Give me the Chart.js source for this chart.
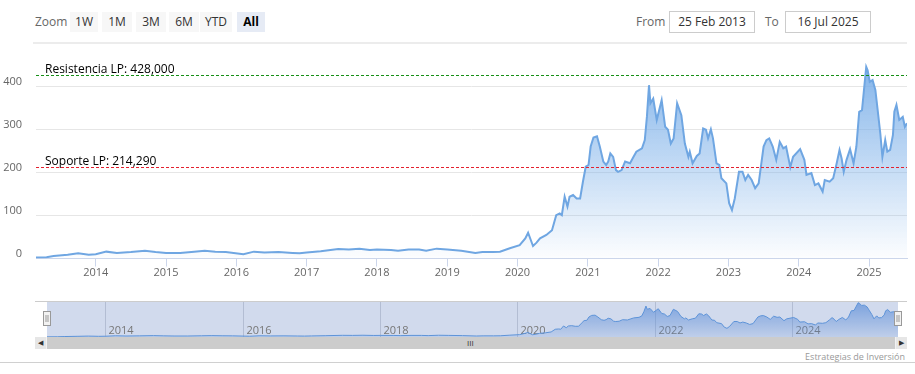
<!DOCTYPE html>
<html>
<head>
<meta charset="utf-8">
<script src="https://cdn.jsdelivr.net/npm/chart.js@4.4.0/dist/chart.umd.min.js"></script>
<style>
  body { margin: 0; width: 915px; height: 374px; position: relative; overflow: hidden; background: #fff; font-family: "Open Sans", sans-serif; }
  .lbl { position: absolute; font-size: 12px; color: #666; }
  .btn { position: absolute; top: 12px; height: 20px; line-height: 20px; background: #f7f7f7; color: #333; font-size: 12px; text-align: center; }
  .btn.sel { background: #e6ebf5; color: #000; font-weight: bold; }
  .caja { position: absolute; top: 11px; height: 20px; line-height: 20px; border: 1px solid #ccc; font-size: 12px; color: #333; text-align: center; }
  #principal { position: absolute; left: 0; top: 45px; width: 915px; height: 245px; }
  #navegador { position: absolute; left: 0; top: 301px; width: 915px; height: 36px; }
  #scroll { position: absolute; left: 35px; top: 337px; width: 872px; height: 12px; background: #f2f2f2; }
  #pulgar { position: absolute; left: 12px; top: 0; width: 848px; height: 12px; background: #cccccc; }
  .flecha { position: absolute; top: 0; width: 11px; height: 12px; background: #e6e6e6; font-size: 7px; line-height: 12px; text-align: center; color: #333; }
</style>
</head>
<body>
<div class="lbl" style="left:35px; top:13px;">Zoom</div>
<div class="btn" style="left:70px; width:28px;">1W</div>
<div class="btn" style="left:102px; width:30px;">1M</div>
<div class="btn" style="left:136px; width:30px;">3M</div>
<div class="btn" style="left:169px; width:30px;">6M</div>
<div class="btn" style="left:200px; width:32px;">YTD</div>
<div class="btn sel" style="left:237px; width:28px;">All</div>
<div class="lbl" style="left:636px; top:13px;">From</div>
<div class="caja" style="left:669px; width:84px;">25 Feb 2013</div>
<div class="lbl" style="left:765px; top:13px;">To</div>
<div class="caja" style="left:785px; width:84px;">16 Jul 2025</div>
<div style="position:absolute; left:33px; top:42px; width:874px; height:2px; background:#ececec;"></div>

<div id="principal"><canvas id="grafico"></canvas></div>
<div id="navegador"><canvas id="nav"></canvas></div>
<div id="scroll">
  <div class="flecha" style="left:0;">&#9664;</div>
  <div id="pulgar"><div style="position:absolute; left:420px; top:0; font-size:8px; line-height:12px; color:#333;">III</div></div>
  <div class="flecha" style="right:0;">&#9654;</div>
</div>
<div style="position:absolute; right:10px; top:350px; font-size:9px; color:#999;">Estrategias de Inversión</div>
<div style="position:absolute; left:0; top:362px; width:915px; height:1px; background:#d0d0d0;"></div>

<script>
// fechas en años decimales y precio de cierre
const fechas = [
  2013.15, 2013.3, 2013.4, 2013.6, 2013.75, 2013.9, 2014.0, 2014.15, 2014.3, 2014.5, 2014.7, 2014.85,
  2015.0, 2015.2, 2015.4, 2015.55, 2015.7, 2015.85, 2016.1, 2016.25, 2016.4, 2016.6, 2016.8, 2016.9,
  2017.0, 2017.2, 2017.45, 2017.6, 2017.75, 2017.9, 2018.0, 2018.2, 2018.3, 2018.45, 2018.6, 2018.7,
  2018.85, 2019.0, 2019.2, 2019.4, 2019.5, 2019.65,
  2019.75, 2019.89, 2020.03, 2020.11, 2020.15, 2020.22, 2020.27, 2020.32, 2020.41, 2020.49, 2020.55, 2020.60,
  2020.63, 2020.67, 2020.71, 2020.74, 2020.79, 2020.84, 2020.89, 2020.93, 2020.97, 2021.01, 2021.04, 2021.08,
  2021.13, 2021.17, 2021.22, 2021.26, 2021.29, 2021.32, 2021.36, 2021.40, 2021.43, 2021.48, 2021.53, 2021.60,
  2021.65, 2021.69, 2021.77, 2021.81, 2021.84, 2021.87, 2021.89, 2021.93, 2021.98, 2022.05, 2022.10, 2022.14,
  2022.18, 2022.22, 2022.27, 2022.33, 2022.38, 2022.43, 2022.45, 2022.49, 2022.55, 2022.59, 2022.64, 2022.68,
  2022.71, 2022.75, 2022.78, 2022.83, 2022.87, 2022.90, 2022.97, 2023.01, 2023.05, 2023.09, 2023.15, 2023.20,
  2023.24, 2023.28, 2023.33, 2023.38, 2023.43, 2023.50, 2023.54, 2023.58, 2023.63, 2023.68, 2023.73, 2023.78,
  2023.82, 2023.88, 2023.92, 2024.02, 2024.08, 2024.11, 2024.18, 2024.23, 2024.28, 2024.34, 2024.37, 2024.44,
  2024.49, 2024.54, 2024.58, 2024.61, 2024.64, 2024.68, 2024.73, 2024.78, 2024.82, 2024.86, 2024.90, 2024.96,
  2024.98, 2025.01, 2025.05, 2025.09, 2025.12, 2025.16, 2025.19, 2025.23, 2025.26, 2025.30, 2025.34, 2025.36,
  2025.39, 2025.43, 2025.48, 2025.51, 2025.54
];
const precios = [
  2.3, 3, 6, 9, 12, 9, 10, 16, 13, 15, 18, 15,
  13, 13, 16, 18, 16, 15, 10, 16, 14, 15, 13, 12,
  14, 17, 22, 21, 23, 20, 21, 20, 18, 21, 21, 18,
  23, 21, 18, 13, 15, 15,
  16, 24, 31, 47, 60, 29, 37, 47, 55, 66, 101, 105,
  101, 144, 121, 144, 148, 140, 140, 179, 214, 218, 261, 282,
  285, 261, 226, 218, 226, 245, 237, 206, 202, 206, 226, 222,
  237, 249, 257, 276, 330, 404, 362, 373, 323, 369, 307, 300,
  268, 280, 362, 334, 268, 237, 249, 222, 239, 245, 303, 300,
  280, 301, 280, 222, 218, 187, 175, 129, 113, 140, 202, 202,
  183, 195, 183, 164, 175, 261, 276, 280, 261, 230, 272, 257,
  261, 213, 237, 255, 230, 195, 199, 171, 175, 156, 183, 179,
  187, 222, 253, 233, 202, 230, 255, 222, 261, 342, 346, 447,
  439, 412, 416, 393, 350, 292, 237, 276, 249, 253, 288, 342,
  358, 323, 330, 307, 315
];
const anios = [2014, 2015, 2016, 2017, 2018, 2019, 2020, 2021, 2022, 2023, 2024, 2025];
const aniosNav = [2014, 2016, 2018, 2020, 2022, 2024];
const ticksY = [0, 100, 200, 300, 400];
const nivelesLP = [428, 214.29];
const etiquetasLP = ['Resistencia LP: 428,000', 'Soporte LP: 214,290'];
const coloresLP = ['#168f16', '#e3202e'];

const puntos = fechas.map((f, i) => ({ x: f, y: precios[i] }));

const lineasLP = {
  id: 'lineasLP',
  afterDatasetsDraw(chart) {
    const { ctx, chartArea, scales } = chart;
    ctx.save();
    nivelesLP.forEach((nivel, i) => {
      const y = Math.round(scales.y.getPixelForValue(nivel)) + 0.5;
      ctx.strokeStyle = coloresLP[i];
      ctx.lineWidth = 1;
      ctx.setLineDash([3, 2]);
      ctx.beginPath();
      ctx.moveTo(chartArea.left, y);
      ctx.lineTo(chartArea.right, y);
      ctx.stroke();
      ctx.setLineDash([]);
      ctx.fillStyle = '#000';
      ctx.font = '12px "Open Sans"';
      ctx.textBaseline = 'alphabetic';
      ctx.fillText(etiquetasLP[i], chartArea.left + 9, y - 3);
    });
    ctx.restore();
  }
};

function degradado(chart, arriba, abajo) {
  const area = chart.chartArea;
  if (!area) return arriba;
  const g = chart.ctx.createLinearGradient(0, area.top, 0, area.bottom);
  g.addColorStop(0, arriba);
  g.addColorStop(1, abajo);
  return g;
}

new Chart(document.getElementById('grafico'), {
  type: 'line',
  data: {
    datasets: [{
      data: puntos,
      borderColor: '#6fa6e2',
      borderWidth: 2,
      pointRadius: 0,
      tension: 0,
      fill: 'origin',
      backgroundColor: (c) => degradado(c.chart, 'rgba(118,172,232,1)', 'rgba(124,176,232,0.02)')
    }]
  },
  options: {
    responsive: true,
    maintainAspectRatio: false,
    animation: false,
    layout: { autoPadding: false, padding: { left: 0, right: 8, top: 0, bottom: 1.5 } },
    plugins: { legend: { display: false }, tooltip: { enabled: false } },
    scales: {
      x: {
        type: 'linear',
        min: 2013.15,
        max: 2025.54,
        afterBuildTicks: (s) => { s.ticks = anios.map(v => ({ value: v })); },
        afterFit: (s) => { s.height = 30; s.paddingLeft = 0; s.paddingRight = 0; },
        grid: { drawOnChartArea: false, drawTicks: true, tickLength: 8, color: '#ccd6eb' },
        border: { display: true, color: '#ccd6eb' },
        ticks: { color: '#666', font: { family: 'Open Sans', size: 11 }, padding: 0, maxRotation: 0, callback: (v) => String(v) }
      },
      y: {
        min: 0,
        max: 497.7,
        afterBuildTicks: (s) => { s.ticks = ticksY.map(v => ({ value: v })); },
        afterFit: (s) => { s.width = 36; s.paddingTop = 0; s.paddingBottom = 0; },
        grid: { color: '#e6e6e6', drawTicks: false },
        border: { display: false },
        ticks: { color: '#666', font: { family: 'Open Sans', size: 11 }, padding: 14, labelOffset: -5 }
      }
    }
  },
  plugins: [lineasLP]
});

const fondoNav = {
  id: 'fondoNav',
  beforeDatasetsDraw(chart) {
    const { ctx, chartArea, scales } = chart;
    ctx.save();
    ctx.fillStyle = 'rgba(102,133,194,0.3)';
    ctx.fillRect(chartArea.left, 0, chartArea.right - chartArea.left, chart.height);
    ctx.strokeStyle = 'rgba(150,160,185,0.5)';
    ctx.lineWidth = 1;
    ctx.fillStyle = '#777';
    ctx.font = '11px "Open Sans"';
    ctx.textBaseline = 'bottom';
    aniosNav.forEach((a) => {
      const x = Math.round(scales.x.getPixelForValue(a)) + 0.5;
      ctx.beginPath();
      ctx.moveTo(x, 0);
      ctx.lineTo(x, chart.height);
      ctx.stroke();
      ctx.fillText(String(a), x + 3, chart.height - 1);
    });
    ctx.restore();
  },
  afterDatasetsDraw(chart) {
    const { ctx, chartArea } = chart;
    ctx.save();
    ctx.strokeStyle = '#cccccc';
    ctx.beginPath();
    ctx.moveTo(35, 0.5);
    ctx.lineTo(907, 0.5);
    ctx.stroke();
    [chartArea.left, chartArea.right].forEach((x) => {
      const hx = Math.round(x - 4) + 0.5;
      ctx.fillStyle = '#f2f2f2';
      ctx.strokeStyle = '#999';
      ctx.fillRect(hx, 10.5, 7, 14);
      ctx.strokeRect(hx, 10.5, 7, 14);
      ctx.beginPath();
      ctx.moveTo(hx + 2.5, 14); ctx.lineTo(hx + 2.5, 21);
      ctx.moveTo(hx + 4.5, 14); ctx.lineTo(hx + 4.5, 21);
      ctx.stroke();
    });
    ctx.restore();
  }
};

new Chart(document.getElementById('nav'), {
  type: 'line',
  data: {
    datasets: [{
      data: puntos,
      borderColor: '#5d93d8',
      borderWidth: 1,
      pointRadius: 0,
      tension: 0,
      fill: 'origin',
      backgroundColor: (c) => degradado(c.chart, 'rgba(90,140,215,0.75)', 'rgba(90,140,215,0.15)')
    }]
  },
  options: {
    responsive: true,
    maintainAspectRatio: false,
    animation: false,
    layout: { autoPadding: false, padding: { left: 47, right: 17, top: 0, bottom: 0 } },
    plugins: { legend: { display: false }, tooltip: { enabled: false } },
    scales: {
      x: { type: 'linear', display: false, min: 2013.15, max: 2025.54 },
      y: { display: false, min: 0, max: 470 }
    }
  },
  plugins: [fondoNav]
});
</script>
</body>
</html>
